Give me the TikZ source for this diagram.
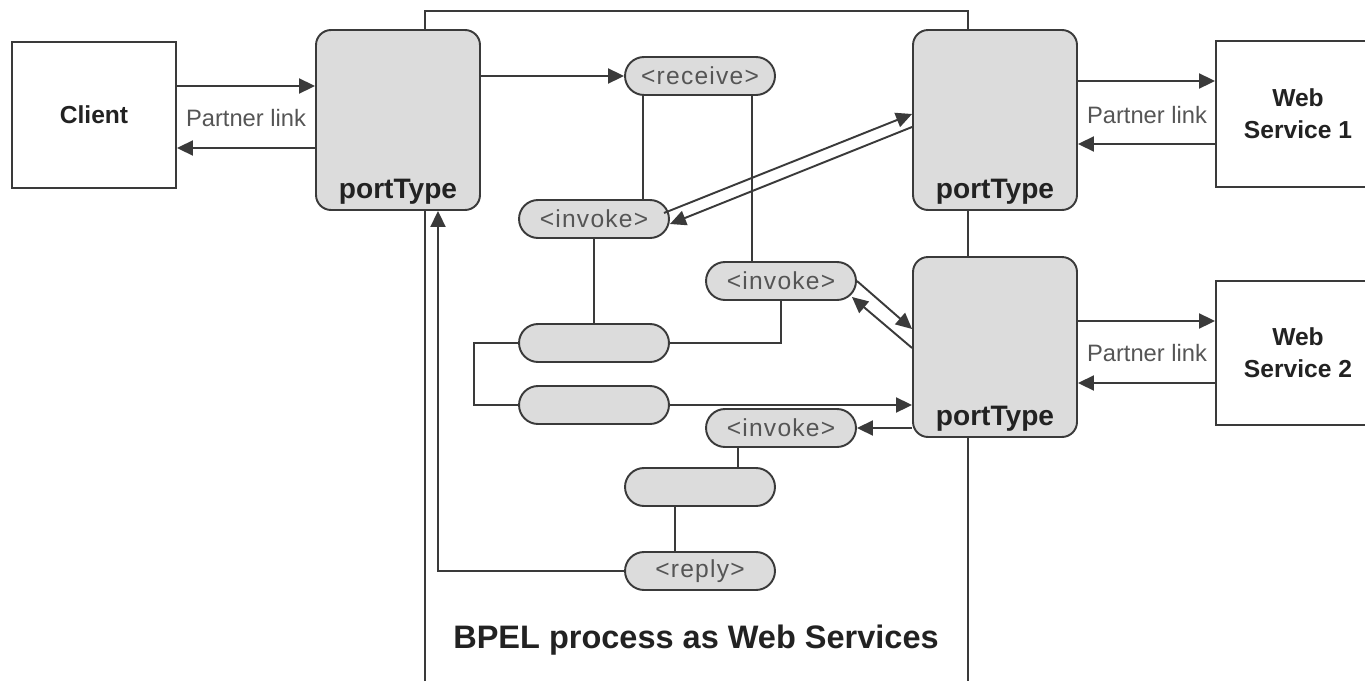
\documentclass[tikz,border=0pt]{standalone}
\usepackage{fontspec}
\setmainfont{Liberation Sans}
\newfontfamily\tagfont[LetterSpace=5]{Liberation Sans}
\usetikzlibrary{arrows.meta,calc}
\definecolor{linegray}{HTML}{3A3A3A}
\definecolor{boxfill}{HTML}{DCDCDC}
\definecolor{textgray}{HTML}{555555}
\definecolor{darktext}{HTML}{222222}

\begin{document}
\begin{tikzpicture}[x=0.02cm, y=0.02cm, line width=1.1pt, color=linegray,
    partner/.style={draw, fill=white, minimum width=3.28cm, minimum height=2.92cm,
      inner sep=0pt, align=center, text=darktext,
      font=\fontsize{14}{18}\selectfont\bfseries},
    port/.style={draw, fill=boxfill, rounded corners=0.3cm, minimum width=3.28cm,
      minimum height=3.6cm, inner sep=0pt,
      label={[anchor=south, inner sep=0pt, yshift=0.12cm, text=darktext,
        font=\fontsize{16}{19}\selectfont\bfseries]south:portType}},
    activity/.style={draw, fill=boxfill, rounded corners=0.38cm, minimum width=3cm,
      minimum height=0.76cm, inner sep=0pt, text=textgray,
      font=\tagfont\fontsize{14}{16}\selectfont},
    plink/.style={inner sep=0pt, text=textgray, font=\fontsize{13.5}{16}\selectfont},
    msg/.style={-{Triangle[length=0.32cm,width=0.3cm]}}]
    \useasboundingbox (0,0) rectangle (1365,681);
    \clip (0,0) rectangle (1365,681);

    % process frame
    \draw (425,0) -- (425,670) -- (968,670) -- (968,0);

    \node[partner] (client) at (94,566) {Client};
    \node[partner] (ws1) at (1298,567) {Web\\Service 1};
    \node[partner, minimum height=2.88cm] (ws2) at (1298,328) {Web\\Service 2};

    \node[port] (pt0) at (398,561) {};
    \node[port] (pt1) at (995,561) {};
    \node[port] (pt2) at (995,334) {};

    \node[plink] (pl0) at (246,563) {Partner link};
    \node[plink] (pl1) at (1147,566) {Partner link};
    \node[plink] (pl2) at (1147,328) {Partner link};

    \node[activity] (receive) at (700,605) {<receive>};
    \node[activity] (invoke1) at (594,462) {<invoke>};
    \node[activity] (invoke2) at (781,400) {<invoke>};
    \node[activity] (pillA) at (594,338) {};
    \node[activity] (pillB) at (594,276) {};
    \node[activity] (invoke3) at (781,253) {<invoke>};
    \node[activity] (pillC) at (700,194) {};
    \node[activity] (reply) at (700,110) {<reply>};

    \node[text=darktext, font=\fontsize{18.5}{22}\selectfont\bfseries] (title)
      at (696,41) {BPEL process as Web Services};

    % partner links
    \draw[msg] (client.east |- 0,595) -- (pt0.west |- 0,595);
    \draw[msg] (pt0.west |- 0,533) -- (client.east |- 0,533);
    \draw[msg] (pt1.east |- 0,600) -- (ws1.west |- 0,600);
    \draw[msg] (ws1.west |- 0,537) -- (pt1.east |- 0,537);
    \draw[msg] (pt2.east |- 0,360) -- (ws2.west |- 0,360);
    \draw[msg] (ws2.west |- 0,298) -- (pt2.east |- 0,298);

    % process flow
    \draw[msg] (pt0.east |- receive.west) -- (receive.west);
    \draw (receive.south -| 643,0) -- (invoke1.north -| 643,0);
    \draw (receive.south -| 752,0) -- (invoke2.north -| 752,0);
    \draw (invoke1.south) -- (pillA.north);
    \draw (pillA.east) -| (invoke2.south);
    \draw (pillA.west) -- ++(-44,0) |- (pillB.west);
    \draw[msg] (pillB.east) -- (pillB.east -| pt2.west);
    \draw[msg] (pt2.west |- invoke3.east) -- (invoke3.east);
    \draw (invoke3.south -| 738,0) -- (pillC.north -| 738,0);
    \draw (pillC.south -| 675,0) -- (reply.north -| 675,0);
    \draw[msg] (reply.west) -| (pt0.south -| 438,0);

    % calls to the partner services
    \draw[msg] ($(invoke1.east)+(-6,6)$) -- (pt1.west |- 0,567);
    \draw[msg] (pt1.west |- 0,554) -- ($(invoke1.east)+(0,-5)$);
    \draw[msg] (invoke2.east) -- ($(pt2.west)+(0,18)$);
    \draw[msg] ($(pt2.west)+(0,-1)$) -- ($(invoke2.east)+(-5,-16)$);
\end{tikzpicture}
\end{document}
